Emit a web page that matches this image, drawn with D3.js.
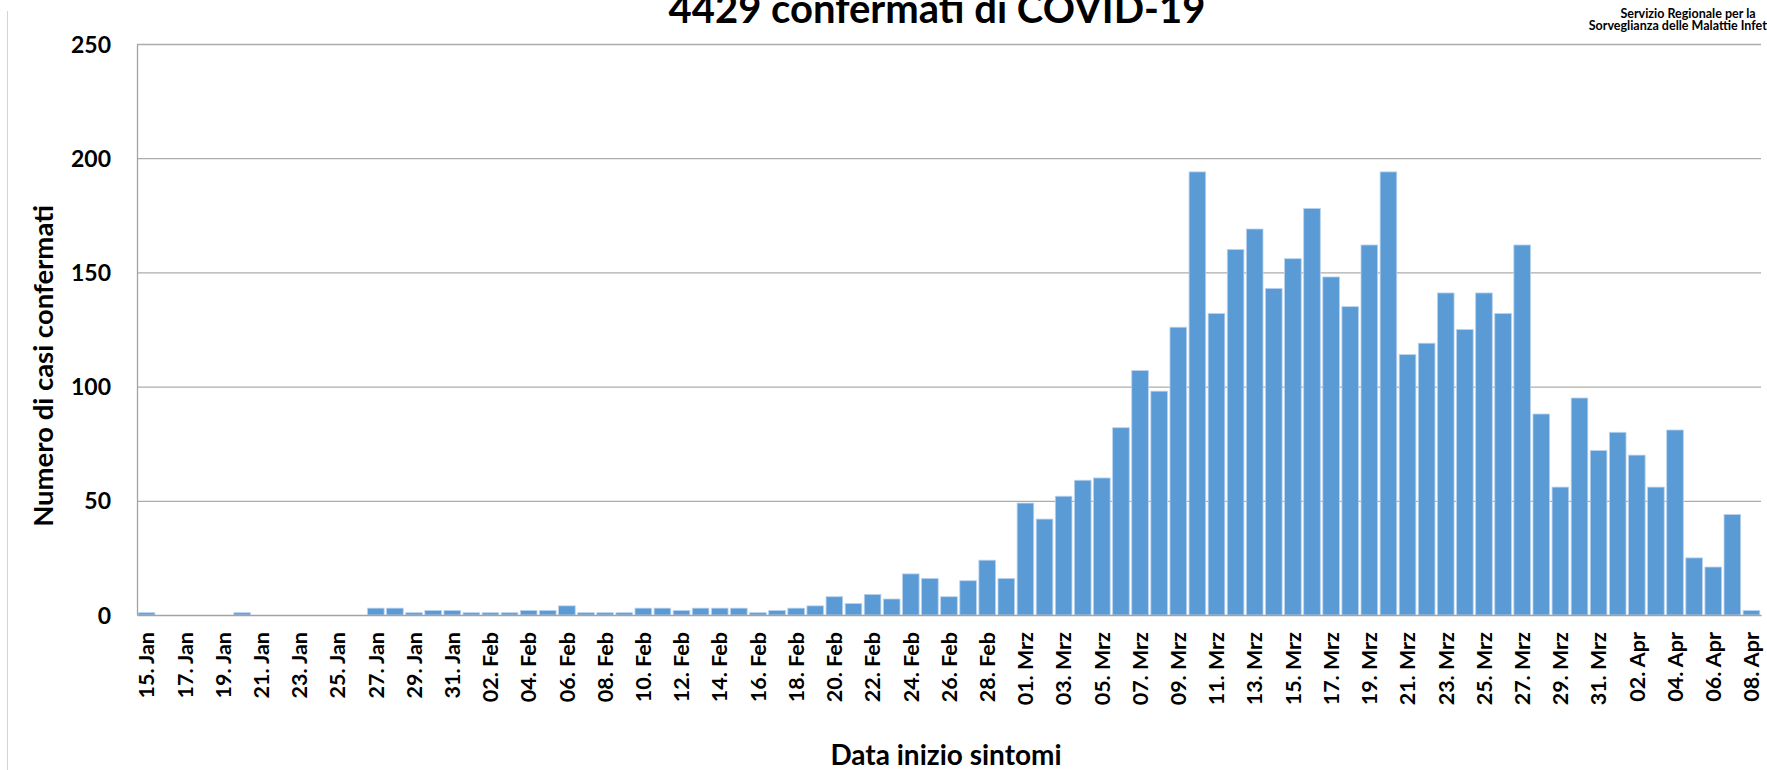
<!DOCTYPE html>
<html>
<head>
<meta charset="utf-8">
<script src="https://cdn.jsdelivr.net/npm/d3@7"></script>
<style>
  html, body { margin: 0; padding: 0; background: #fff; overflow: hidden; }
  #chart text { font-family: Lato, "Open Sans", sans-serif; font-weight: 700; fill: #000; }
</style>
</head>
<body>
<div id="chart"></div>
<script>
// month names as printed on the axis, and the first day shown in each month
const monthNames = ["Jan", "Feb", "Mrz", "Apr"];
const monthFirstDay = [15, 1, 1, 1];

// confirmed cases by symptom onset date
const casesJan = [1, 0, 0, 0, 0, 1, 0, 0, 0, 0, 0, 0, 3, 3, 1, 2, 2];
const casesFeb = [1, 1, 1, 2, 2, 4, 1, 1, 1, 3, 3, 2, 3, 3, 3, 1, 2, 3, 4, 8,
                  5, 9, 7, 18, 16, 8, 15, 24, 16];
const casesMar = [49, 42, 52, 59, 60, 82, 107, 98, 126, 194, 132, 160, 169, 143, 156, 178,
                  148, 135, 162, 194, 114, 119, 141, 125, 141, 132, 162, 88, 56, 95, 72];
const casesApr = [80, 70, 56, 81, 25, 21, 44, 2];

const yTicks = [0, 50, 100, 150, 200, 250];

const titleText = "4429 confermati di COVID-19";
const sourceLines = ["Servizio Regionale per la", "Sorveglianza delle Malattie Infettive"];
const yTitle = "Numero di casi confermati";
const xTitle = "Data inizio sintomi";

// build the table of days
const data = [];
[casesJan, casesFeb, casesMar, casesApr].forEach((arr, m) => {
    arr.forEach((v, i) => {
        const day = String(monthFirstDay[m] + i).padStart(2, "0");
        data.push({ label: `${day}. ${monthNames[m]}`, value: v });
    });
});

const W = 1767, H = 770;
const margin = { top: 44, right: 6, bottom: 155, left: 137 },
    width = W - margin.left - margin.right,
    height = H - margin.top - margin.bottom;

const root = d3.select("#chart").append("svg")
    .attr("width", W)
    .attr("height", H);

// faint page border on the left
root.append("line")
    .attr("x1", 7.5).attr("x2", 7.5)
    .attr("y1", 11).attr("y2", H)
    .attr("stroke", "#d4d4d4")
    .attr("stroke-width", 1);

// title (top is cut off in the original)
root.append("text")
    .attr("x", 937)
    .attr("y", 23)
    .attr("text-anchor", "middle")
    .style("font-size", "40px")
    .text(titleText);

// source note top right (runs off the page like the original)
root.selectAll(".source")
    .data(sourceLines)
    .enter().append("text")
    .attr("class", "source")
    .attr("x", 1688)
    .attr("y", (d, i) => 18 + i * 12)
    .attr("text-anchor", "middle")
    .style("font-size", "12.5px")
    .text(d => d);

const svg = root.append("g")
    .attr("transform", `translate(${margin.left},${margin.top})`);

// scales
const xScale = d3.scaleBand()
    .domain(data.map(d => d.label))
    .range([0, width])
    .paddingInner(0.13)
    .paddingOuter(0.065);

const yScale = d3.scaleLinear()
    .domain([0, 250])
    .range([height, 0]);

// gridlines
svg.append("g")
    .call(d3.axisLeft(yScale).tickValues(yTicks.filter(t => t > 0)).tickSize(-width).tickFormat(""))
    .call(g => g.select(".domain").remove())
    .call(g => g.selectAll("line").attr("stroke", "#acacac").attr("stroke-width", 1.3));

// bars
svg.selectAll(".bar")
    .data(data)
    .enter().append("rect")
    .attr("class", "bar")
    .attr("x", d => xScale(d.label))
    .attr("width", xScale.bandwidth())
    .attr("y", d => yScale(d.value))
    .attr("height", d => height - yScale(d.value))
    .attr("fill", "#5B9BD5")
    .attr("stroke", "#b9d2ee")
    .attr("stroke-width", 0.8);

// Y axis
svg.append("g")
    .call(d3.axisLeft(yScale).tickValues(yTicks).tickSize(0).tickPadding(26))
    .call(g => g.select(".domain").attr("stroke", "#a3a3a3").attr("stroke-width", 1.3))
    .call(g => g.selectAll("text").style("font-size", "23px").attr("dy", "0.35em"));

// X axis
const labelTicks = data.filter((d, i) => i % 2 === 0).map(d => d.label);
svg.append("g")
    .attr("transform", `translate(0,${height})`)
    .call(d3.axisBottom(xScale).tickValues(labelTicks).tickSize(0))
    .call(g => g.select(".domain").attr("stroke", "#a3a3a3").attr("stroke-width", 1.3))
    .call(g => g.selectAll("text")
        .style("font-size", "21.5px")
        .attr("text-anchor", "end")
        .attr("transform", "rotate(-90)")
        .attr("x", -17)
        .attr("y", 0)
        .attr("dy", "0.36em"));

// Y axis label
root.append("text")
    .attr("transform", "rotate(-90)")
    .attr("x", -366)
    .attr("y", 53)
    .attr("text-anchor", "middle")
    .style("font-size", "27.5px")
    .text(yTitle);

// X axis label
root.append("text")
    .attr("x", 946)
    .attr("y", 765)
    .attr("text-anchor", "middle")
    .style("font-size", "28px")
    .text(xTitle);
</script>
</body>
</html>
